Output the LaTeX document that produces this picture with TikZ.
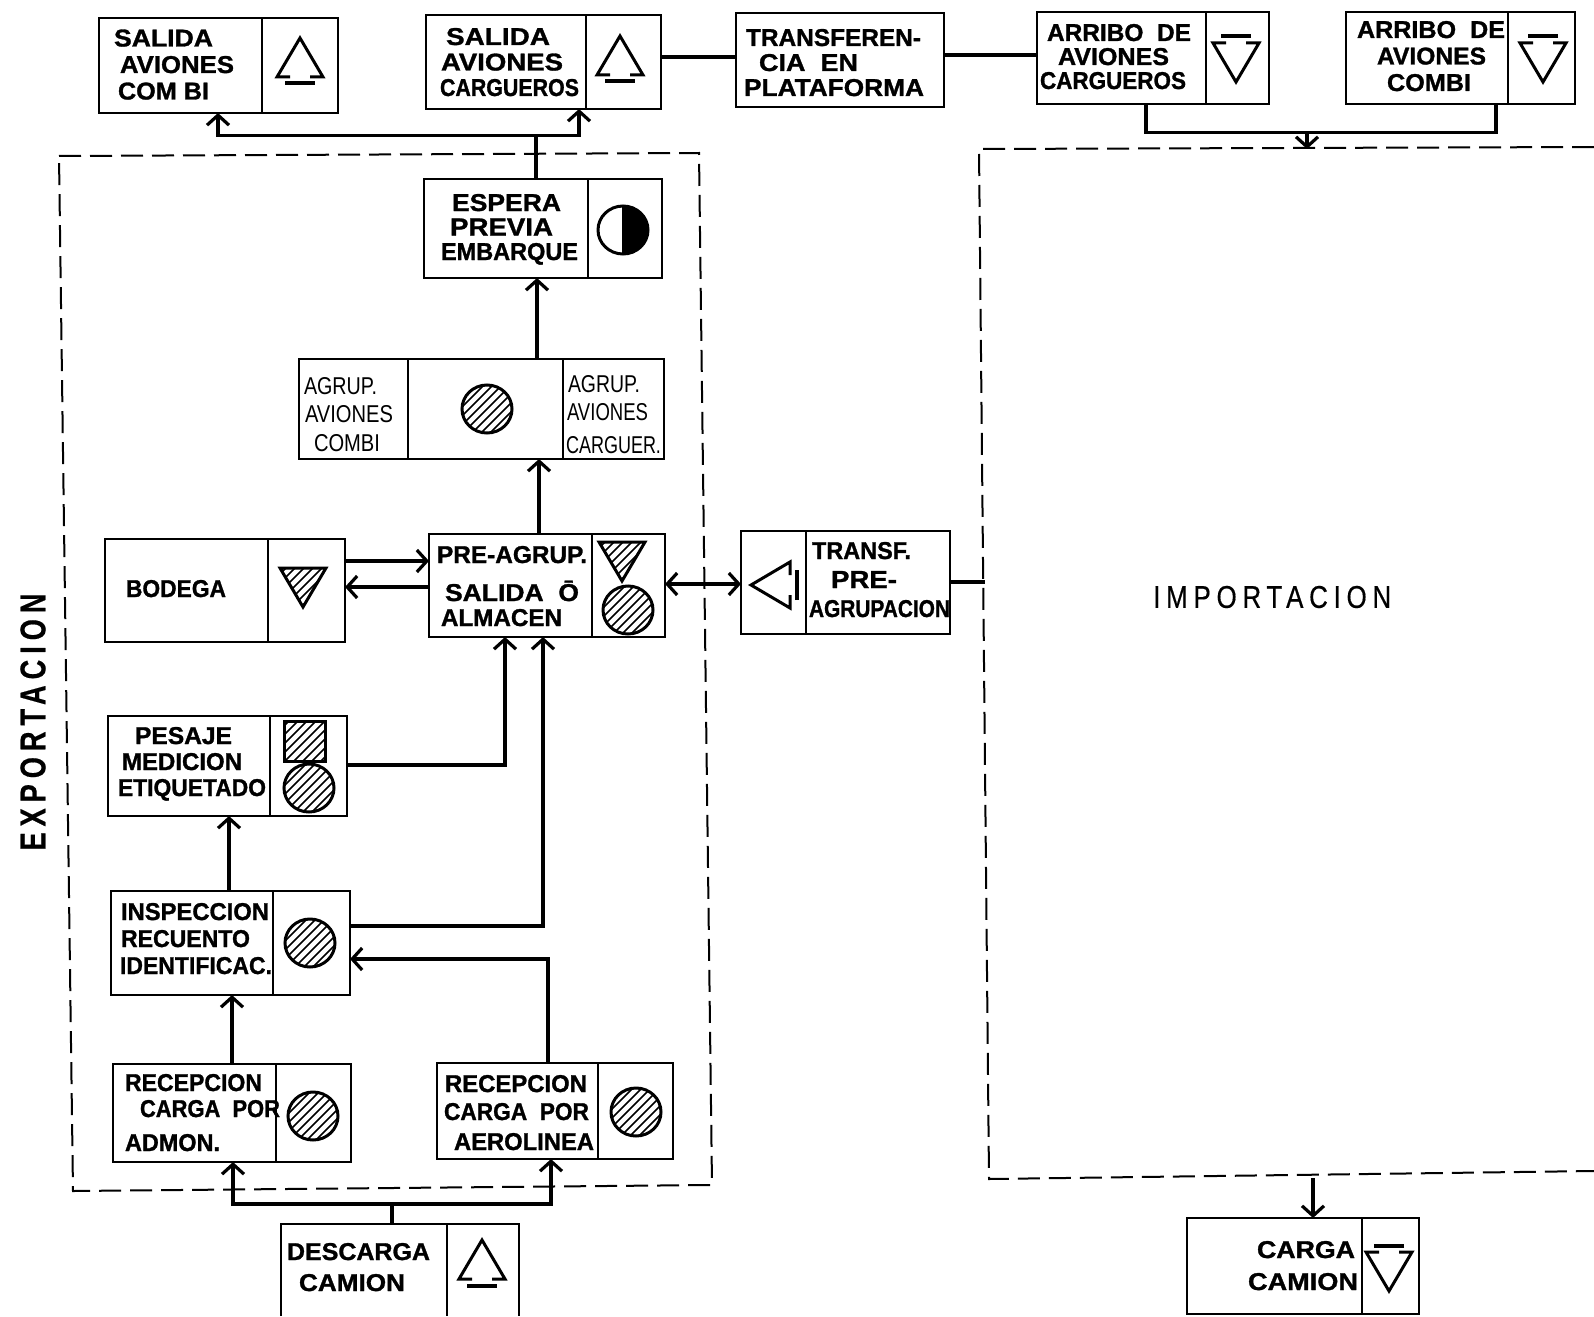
\documentclass[tikz,border=0pt]{standalone}
\usepackage{fontspec}
\usepackage{graphicx}
\setmainfont[BoldFeatures={FakeBold=1.2}]{Liberation Sans}
\newfontfamily\ziplbl[LetterSpace=22,FakeBold=0.5,BoldFont={Liberation Sans Bold}]{Liberation Sans}
\usetikzlibrary{arrows.meta}
\newcommand{\LL}[3]{\hspace*{#1pt}\resizebox{#2pt}{17pt}{#3}}
\newcommand{\bx}[6][bxs]{%
  \pgfmathsetmacro{\cxx}{(#3+#5)/2}\pgfmathsetmacro{\cyy}{(#4+#6)/2}%
  \pgfmathsetmacro{\wxx}{#5-#3}\pgfmathsetmacro{\hyy}{#6-#4}%
  \node[#1,minimum width=\wxx pt,minimum height=\hyy pt] (#2) at (\cxx,\cyy) {};}
\newcommand{\dv}[2]{\draw[ln] (#2,0 |- #1.north) -- (#2,0 |- #1.south);}
\newcommand{\trisym}[3]{%
  \begin{scope}[shift={(#1,#2)},rotate=#3]
    \draw[sym,line join=miter] (-10,17) -- (-23,17) -- (0,-22) -- (23,17) -- (10,17);
    \draw[line width=4pt] (-15,23.5) -- (15,23.5);
  \end{scope}}
\newcommand{\hatchfill}{%
  \foreach \k in {-72,-63,...,72} {\draw[line width=1.5pt] (\k-40,40) -- (\k+40,-40);}}
\newcommand{\hcirc}[2]{%
  \begin{scope}[shift={(#1,#2)}]
    \begin{scope}\clip (0,0) ellipse [x radius=25,y radius=24];\hatchfill\end{scope}
    \draw[sym] (0,0) ellipse [x radius=25,y radius=24];
  \end{scope}}
\newcommand{\htri}[2]{%
  \begin{scope}[shift={(#1,#2)}]
    \begin{scope}\clip (-23,-19) -- (23,-19) -- (0,20) -- cycle;\hatchfill\end{scope}
    \draw[sym,line join=miter] (-23,-19) -- (23,-19) -- (0,20) -- cycle;
  \end{scope}}
\tikzset{
  x=1pt,y=-1pt,
  bxs/.style={draw,line width=2.2pt,rectangle,inner sep=0pt,outer sep=0pt},
  bxopen/.style={draw=none,rectangle,inner sep=0pt,outer sep=0pt},
  ln/.style={line width=2.2pt},
  sym/.style={line width=3pt},
  con/.style={line width=3.4pt,line join=miter},
  arr/.style={con,-{Straight Barb[length=10pt,width=22pt,line width=3.2pt]}},
  darr/.style={con,{Straight Barb[length=10pt,width=22pt,line width=3.2pt]}-{Straight Barb[length=10pt,width=22pt,line width=3.2pt]}},
  zone/.style={line width=2pt,dash pattern=on 22pt off 9pt},
  lbl/.style={anchor=north west,inner sep=0pt,outer sep=0pt,align=left,font=\bfseries\fontsize{24}{26.5pt}\selectfont},
  lblthin/.style={lbl,font=\fontsize{24}{28.5pt}\selectfont},
}
\begin{document}
\begin{tikzpicture}
\useasboundingbox (0,0) rectangle (1594,1316);
% zones
\coordinate (exA) at (59,156); \coordinate (exB) at (699,153);
\coordinate (exC) at (712,1185); \coordinate (exD) at (73,1191);
\draw[zone] (exA) -- (exB) -- (exC) -- (exD) -- cycle;
\coordinate (imR) at (1594,147); \coordinate (imA) at (979,149);
\coordinate (imB) at (989,1179); \coordinate (imS) at (1594,1171);
\draw[zone] (imR) -- (imA) -- (imB) -- (imS);
% boxes
\bx{sc}{99}{18}{338}{113}\dv{sc}{262}
\bx{sk}{426}{15}{661}{109}\dv{sk}{586}
\bx{tp}{736}{13}{944}{107}
\bx{ak}{1037}{12}{1269}{104}\dv{ak}{1206}
\bx{ac}{1346}{12}{1575}{104}\dv{ac}{1508}
\bx{es}{424}{179}{662}{278}\dv{es}{588}
\bx{ag}{299}{359}{664}{459}\dv{ag}{408}\dv{ag}{563}
\bx{bo}{105}{539}{345}{642}\dv{bo}{268}
\bx{pa}{429}{534}{665}{637}\dv{pa}{592}
\bx{tr}{741}{531}{950}{634}\dv{tr}{806}
\bx{pe}{108}{716}{347}{816}\dv{pe}{270}
\bx{in}{111}{891}{350}{995}\dv{in}{273}
\bx{ra}{113}{1064}{351}{1162}\dv{ra}{276}
\bx{rl}{437}{1063}{673}{1159}\dv{rl}{598}
\bx[bxopen]{de}{281}{1224}{519}{1316}\dv{de}{447}
\draw[ln] (de.south west) -- (de.north west) -- (de.north east) -- (de.south east);
\bx{cc}{1187}{1218}{1419}{1314}\dv{cc}{1362}
% labels
\node[lbl] (tsc) at (114,29.5) {\LL{0}{99}{SALIDA}\\\LL{6}{114}{AVIONES}\\\LL{4}{91}{COM BI}};
\node[lbl,font=\bfseries\fontsize{24}{25.5pt}\selectfont] (tsk) at (440,28) {\LL{6}{104}{SALIDA}\\\LL{1}{122}{AVIONES}\\\LL{0}{139}{CARGUEROS}};
\node[lbl,font=\bfseries\fontsize{24}{25pt}\selectfont] (ttp) at (744,29) {\LL{2}{175}{TRANSFEREN-}\\\LL{15}{99}{CIA\ \ EN}\\\LL{0}{180}{PLATAFORMA}};
\node[lbl,font=\bfseries\fontsize{24}{24pt}\selectfont] (tak) at (1040,24) {\LL{7}{144}{ARRIBO\ \ DE}\\\LL{18}{111}{AVIONES}\\\LL{0}{146}{CARGUEROS}};
\node[lbl] (tac) at (1357,21) {\LL{0}{148}{ARRIBO\ \ DE}\\\LL{20}{109}{AVIONES}\\\LL{30}{84}{COMBI}};
\node[lbl,font=\bfseries\fontsize{24}{24.5pt}\selectfont] (tes) at (441,194) {\LL{11}{109}{ESPERA}\\\LL{9}{103}{PREVIA}\\\LL{0}{137}{EMBARQUE}};
\node[lblthin] (tal) at (304,377) {\LL{0}{73}{AGRUP.}\\\LL{1}{88}{AVIONES}\\\LL{10}{66}{COMBI}};
\node[lblthin] (tar) at (566,375) {\LL{2}{72}{AGRUP.}\\\LL{1}{81}{AVIONES}\\[4pt]\LL{0}{95}{CARGUER.}};
\node[lbl] (tbo) at (126,580) {\LL{0}{100}{BODEGA}};
\node[lbl,font=\bfseries\fontsize{24}{25pt}\selectfont] (tpa) at (437,546) {\LL{0}{150}{PRE-AGRUP.}\\[13pt]\LL{8}{134}{SALIDA\ \ \raisebox{0pt}[0pt][0pt]{Ō}}\\\LL{4}{121}{ALMACEN}};
\node[lbl,font=\bfseries\fontsize{24}{29pt}\selectfont] (ttr) at (809,542) {\LL{3}{99}{TRANSF.}\\\LL{22}{66}{PRE-}\\\LL{0}{141}{AGRUPACION}};
\node[lbl,font=\bfseries\fontsize{24}{26pt}\selectfont] (tpe) at (118,727) {\LL{17}{97}{PESAJE}\\\LL{4}{120}{MEDICION}\\\LL{0}{148}{ETIQUETADO}};
\node[lbl,font=\bfseries\fontsize{24}{27pt}\selectfont] (tin) at (120,903) {\LL{1}{148}{INSPECCION}\\\LL{1}{129}{RECUENTO}\\\LL{0}{152}{IDENTIFICAC.}};
\node[lbl,font=\bfseries\fontsize{24}{26pt}\selectfont] (tra) at (125,1074) {\LL{0}{137}{RECEPCION}\\\LL{15}{140}{CARGA\ \ POR}\\[8pt]\LL{0}{95}{ADMON.}};
\node[lbl,font=\bfseries\fontsize{24}{28pt}\selectfont] (trl) at (444,1075) {\LL{1}{142}{RECEPCION}\\\LL{0}{145}{CARGA\ \ POR}\\[2pt]\LL{10}{140}{AEROLINEA}};
\node[lbl,font=\bfseries\fontsize{24}{31pt}\selectfont] (tde) at (287,1243) {\LL{0}{143}{DESCARGA}\\\LL{12}{106}{CAMION}};
\node[lbl,font=\bfseries\fontsize{24}{32pt}\selectfont] (tcc) at (1248,1241) {\LL{9}{98}{CARGA}\\\LL{0}{110}{CAMION}};
\node[inner sep=0pt,anchor=west] (tim) at (1153,597) {\resizebox{238pt}{22pt}{\ziplbl IMPORTACION}};
\node[inner sep=0pt,rotate=90] (tex) at (33,722) {\resizebox{257pt}{25pt}{\ziplbl\bfseries EXPORTACION}};
% symbols
\trisym{300}{60}{0}
\trisym{620}{58}{0}
\trisym{482}{1262}{0}
\trisym{1236}{60}{180}
\trisym{1543}{60}{180}
\trisym{1389}{1269}{180}
\trisym{773}{585}{90}
\hcirc{487}{409}
\hcirc{628}{610}
\hcirc{309}{788}
\hcirc{310}{943}
\hcirc{313}{1116}
\hcirc{636}{1112}
\htri{303}{587}
\htri{622}{561}
\begin{scope}
  \clip (284,721) rectangle (325,761);
  \begin{scope}[shift={(305,741)}]\hatchfill\end{scope}
\end{scope}
\draw[sym] (284,721) rectangle (325,761);
\fill (623,206) arc [start angle=-90,end angle=90,x radius=25,y radius=24] -- cycle;
\draw[sym] (623,230) ellipse [x radius=25,y radius=24];
\draw[sym] (623,206) -- (623,254);
% connectors
\coordinate (j1) at (536,135.5);
\draw[con] (es.north -| j1) -- (j1);
\draw[arr] (536,135.5) -- (218,135.5) -- (218,0 |- sc.south);
\draw[arr] (536,135.5) -- (579,135.5) -- (579,0 |- sk.south);
\draw[con] (sk.east |- 0,57) -- (tp.west |- 0,57);
\draw[con] (tp.east |- 0,55) -- (ak.west |- 0,55);
\coordinate (j2) at (1307,132.5);
\draw[con] (1146,0 |- ak.south) -- (1146,132.5) -- (1496,132.5) -- (1496,0 |- ac.south);
\draw[arr] (j2) -- (1307,149);
\draw[arr] (537,0 |- ag.north) -- (537,0 |- es.south);
\draw[arr] (539,0 |- pa.north) -- (539,0 |- ag.south);
\draw[arr] (bo.east |- 0,561) -- (pa.west |- 0,561);
\draw[arr] (pa.west |- 0,587) -- (bo.east |- 0,587);
\draw[darr] (pa.east |- 0,584) -- (tr.west |- 0,584);
\draw[con] (tr.east |- 0,582) -- (985,582);
\draw[arr] (pe.east |- 0,765) -- (505,765) -- (505,0 |- pa.south);
\draw[arr] (in.east |- 0,926) -- (543,926) -- (543,0 |- pa.south);
\draw[arr] (548,0 |- rl.north) -- (548,959) -- (in.east |- 0,959);
\draw[arr] (229,0 |- in.north) -- (229,0 |- pe.south);
\draw[arr] (232,0 |- ra.north) -- (232,0 |- in.south);
\draw[con] (392,0 |- de.north) -- (392,1204);
\draw[arr] (392,1204) -- (233,1204) -- (233,0 |- ra.south);
\draw[arr] (392,1204) -- (551,1204) -- (551,0 |- rl.south);
\draw[arr] (1313,1178) -- (1313,0 |- cc.north);
\end{tikzpicture}
\end{document}
